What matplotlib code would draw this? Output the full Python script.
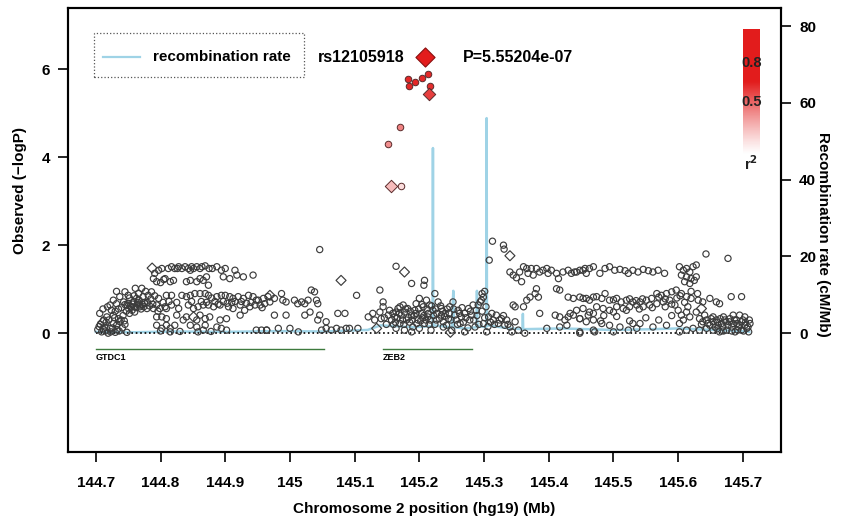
import numpy as np
import matplotlib
matplotlib.use('Agg')
import matplotlib.pyplot as plt
from matplotlib.patches import Rectangle

plt.rcParams['font.family'] = ['Liberation Sans', 'DejaVu Sans']
plt.rcParams['font.weight'] = 'bold'

# ---------------- data ----------------
x_ticks = [144.7, 144.8, 144.9, 145.0, 145.1, 145.2, 145.3, 145.4, 145.5, 145.6, 145.7]
x_tick_labels = ['144.7', '144.8', '144.9', '145', '145.1', '145.2', '145.3', '145.4', '145.5', '145.6', '145.7']
y_ticks = [0, 2, 4, 6]
rec_ticks = [0, 20, 40, 60, 80]

lead_snp = 'rs12105918'
lead_pos = 145.2085
lead_logp = 6.27
lead_p_text = 'P=5.55204e-07'

# SNPs in LD with lead SNP (position Mb, -logP, r2, marker)
ld_pos = [145.182, 145.184, 145.193, 145.204, 145.213, 145.216, 145.215, 145.170, 145.151, 145.156, 145.171]
ld_logp = [5.77, 5.61, 5.70, 5.80, 5.89, 5.61, 5.43, 4.68, 4.31, 3.34, 3.34]
ld_r2 = [0.95, 0.95, 0.95, 0.95, 0.95, 0.92, 0.85, 0.55, 0.50, 0.30, 0.15]
ld_marker = ['o', 'o', 'o', 'o', 'o', 'o', 'D', 'o', 'o', 'D', 'o']

# remaining SNPs (r2 ~ 0), circles
snp_circles = [
    (144.709,0.03),(144.714,0.14),(144.719,0.0),(144.722,0.11),(144.727,0.22),(144.730,0.02),(144.732,0.18),
    (144.712,0.30),(144.717,0.37),(144.724,0.52),(144.727,0.41),(144.735,0.33),(144.737,0.26),(144.706,0.45),
    (144.715,0.05),(144.736,0.05),(144.741,0.12),(144.745,0.20),(144.748,0.02),
    (144.722,0.64),(144.727,0.75),(144.732,0.67),(144.737,0.83),(144.743,0.71),(144.745,0.94),(144.748,0.64),
    (144.750,0.86),(144.755,0.60),(144.758,0.71),(144.761,1.02),(144.763,0.79),(144.768,0.64),(144.771,1.02),
    (144.773,0.83),(144.776,0.67),(144.779,0.56),(144.781,0.86),(144.786,0.94),(144.789,0.56),(144.794,0.64),
    (144.797,0.79),(144.799,0.56),(144.802,0.37),(144.807,0.60),(144.809,0.56),
    (144.745,0.65),(144.750,0.68),(144.753,0.62),(144.757,0.66),(144.760,0.60),(144.765,0.70),(144.768,0.60),
    (144.772,0.65),(144.775,0.70),(144.740,0.58),(144.735,0.55),(144.730,0.50),(144.742,0.40),(144.752,0.45),
    (144.760,0.48),(144.766,0.90),(144.752,0.80),(144.732,0.95),
    (144.703,0.08),(144.707,0.20),(144.711,0.10),(144.716,0.25),(144.720,0.30),(144.723,0.03),(144.726,0.12),
    (144.729,0.35),(144.733,0.08),(144.739,0.30),(144.744,0.28),(144.747,0.50),(144.751,0.55),(144.756,0.52),
    (144.759,0.85),(144.762,0.58),(144.764,0.66),(144.767,0.75),(144.770,0.55),(144.774,0.60),(144.777,0.95),
    (144.780,0.70),(144.783,0.62),(144.785,0.78),(144.788,0.66),(144.791,0.85),(144.796,0.50),(144.804,0.70),
    (144.711,0.55),(144.718,0.60),(144.705,0.15),
    (144.791,1.36),(144.797,1.43),(144.802,1.47),(144.807,1.24),(144.812,1.47),(144.817,1.51),
    (144.822,1.47),(144.828,1.51),(144.833,1.47),(144.838,1.51),(144.843,1.47),(144.846,1.43),(144.851,1.47),
    (144.856,1.51),(144.861,1.47),(144.869,1.53),(144.871,1.28),(144.887,1.51),(144.894,1.43),(144.900,1.47),
    (144.897,1.28),(144.907,1.24),(144.918,1.32),(144.928,1.28),(144.943,1.32),
    (144.915,1.43),(144.880,1.47),(144.875,1.47),(144.864,1.51),(144.848,1.51),(144.826,1.47),
    (144.789,1.24),(144.794,1.17),(144.815,1.17),(144.820,1.20),(144.840,1.17),(144.846,1.20),(144.856,1.17),
    (144.861,1.24),(144.866,1.20),(144.874,1.09),(144.800,1.15),(144.805,1.22),
    (144.809,0.86),(144.817,0.86),(144.840,0.83),(144.846,0.86),(144.853,0.90),(144.861,0.90),(144.869,0.90),
    (144.874,0.86),(144.887,0.83),(144.894,0.86),(144.900,0.86),(144.907,0.83),(144.912,0.79),(144.920,0.83),
    (144.928,0.79),(144.936,0.86),(144.943,0.83),(144.948,0.75),(144.959,0.79),
    (144.813,0.72),(144.825,0.70),(144.833,0.86),(144.835,0.30),(144.848,0.72),(144.863,0.72),(144.871,0.70),
    (144.879,0.80),(144.884,0.72),(144.889,0.66),(144.897,0.72),(144.903,0.68),(144.910,0.70),(144.915,0.72),
    (144.925,0.72),(144.933,0.68),(144.940,0.70),(144.951,0.75),(144.957,0.58),
    (144.817,0.64),(144.828,0.56),(144.843,0.64),(144.851,0.56),(144.858,0.60),(144.866,0.64),(144.874,0.64),
    (144.882,0.60),(144.892,0.64),(144.905,0.60),(144.912,0.56),(144.923,0.64),(144.930,0.52),(144.938,0.60),
    (144.946,0.64),(144.954,0.64),(144.961,0.67),
    (144.794,0.37),(144.809,0.33),(144.825,0.41),(144.840,0.37),(144.856,0.30),(144.861,0.41),(144.869,0.33),
    (144.876,0.37),(144.892,0.30),(144.902,0.33),(144.923,0.41),
    (144.794,0.18),(144.802,0.11),(144.809,0.18),(144.815,0.11),(144.822,0.18),(144.846,0.18),(144.856,0.14),
    (144.866,0.07),(144.869,0.18),(144.887,0.14),(144.894,0.11),(144.902,0.07),(144.948,0.07),(144.956,0.07),
    (144.964,0.07),(144.800,0.05),(144.815,0.03),(144.830,0.04),(144.858,0.03),(144.878,0.04),
    (145.046,1.90),(145.103,0.86),(145.139,0.98),(145.144,0.71),
    (145.164,1.52),(145.188,1.13),(145.208,1.20),(145.207,1.09),(145.224,0.90),
    (144.966,0.83),(144.969,0.71),(144.976,0.79),(144.987,0.90),(144.989,0.75),(144.994,0.71),(145.007,0.75),
    (145.012,0.67),(145.018,0.71),(145.023,0.67),(145.028,0.75),(145.033,0.98),(145.038,0.94),(145.041,0.75),
    (145.043,0.67),(144.976,0.41),(144.994,0.41),(145.023,0.41),(145.031,0.48),(145.046,0.41),(145.043,0.30),
    (145.056,0.26),(145.074,0.45),(145.085,0.45),
    (144.964,0.07),(144.982,0.11),(145.000,0.11),(145.013,0.03),(145.049,0.07),(145.056,0.11),(145.064,0.07),
    (145.072,0.11),(145.079,0.07),(145.087,0.11),(145.092,0.11),(145.105,0.11),
    (145.121,0.37),(145.128,0.45),(145.131,0.30),(145.139,0.48),(145.141,0.33),(145.144,0.60),
    (145.152,0.41),(145.154,0.52),(145.157,0.30),(145.162,0.37),(145.164,0.48),(145.167,0.56),(145.170,0.22),
    (145.172,0.41),(145.175,0.64),(145.177,0.48),(145.180,0.30),(145.182,0.56),(145.188,0.41),(145.190,0.14),
    (145.193,0.52),(145.195,0.67),(145.198,0.30),(145.200,0.79),(145.203,0.45),(145.206,0.60),(145.208,0.22),
    (145.211,0.75),(145.213,0.37),(145.216,0.64),(145.218,0.07),(145.221,0.52),(145.226,0.30),(145.229,0.71),
    (145.234,0.41),(145.237,0.14),(145.164,0.11),(145.177,0.07),(145.188,0.03),(145.200,0.11),
    (145.160,0.20),(145.185,0.25),(145.195,0.45),(145.205,0.35),(145.215,0.20),(145.225,0.55),(145.170,0.60),
    (145.146,0.35),(145.149,0.20),(145.159,0.45),(145.163,0.25),(145.166,0.35),(145.169,0.45),(145.174,0.30),
    (145.176,0.20),(145.179,0.55),(145.183,0.35),(145.186,0.50),(145.189,0.30),(145.192,0.40),(145.196,0.22),
    (145.199,0.55),(145.202,0.28),(145.204,0.65),(145.207,0.40),(145.210,0.30),(145.212,0.55),(145.214,0.45),
    (145.217,0.30),(145.219,0.62),(145.222,0.40),(145.224,0.20),(145.227,0.45),(145.231,0.33),(145.233,0.62),
    (145.236,0.50),(145.239,0.38),(145.243,0.55),(145.246,0.45),(145.249,0.30),(145.253,0.55),(145.257,0.30),
    (145.259,0.20),(145.262,0.45),(145.266,0.58),(145.268,0.25),(145.272,0.35),(145.275,0.12),(145.279,0.50),
    (145.284,0.30),(145.289,0.40),(145.292,0.20),(145.297,0.50),(145.301,0.35),(145.303,0.60),(145.306,0.15),
    (145.310,0.25),(145.316,0.20),(145.324,0.30),(145.330,0.40),(145.337,0.20),(145.297,0.90),(145.301,0.95),
    (145.313,2.09),(145.330,2.00),(145.331,1.91),(145.308,1.66),
    (145.299,0.82),(145.296,0.75),(145.294,0.71),(145.291,0.64),(145.288,0.52),(145.283,0.64),(145.281,0.41),
    (145.276,0.56),(145.270,0.45),(145.265,0.37),(145.260,0.52),(145.255,0.41),(145.252,0.71),(145.247,0.60),
    (145.245,0.33),(145.240,0.45),(145.237,0.26),(145.234,0.56),(145.242,0.18),(145.250,0.07),(145.270,0.03),
    (145.286,0.14),(145.263,0.22),(145.278,0.30),(145.304,0.03),(145.299,0.22),(145.307,0.37),(145.312,0.45),
    (145.314,0.30),(145.319,0.41),(145.322,0.22),(145.327,0.33),(145.332,0.18),(145.335,0.30),(145.340,0.14),
    (145.343,0.03),(145.348,0.26),(145.353,0.07),(145.345,0.64),(145.348,0.60),
    (145.363,0.00),(145.397,0.11),(145.386,0.45),
    (145.340,1.39),(145.345,1.32),(145.350,1.26),(145.355,1.39),(145.358,1.17),(145.361,1.51),(145.366,1.47),
    (145.368,1.36),(145.373,1.47),(145.376,1.32),(145.381,1.47),(145.386,1.39),(145.391,1.43),(145.397,1.47),
    (145.399,1.36),(145.404,1.43),(145.412,1.36),(145.415,1.24),(145.422,1.39),(145.430,1.43),(145.435,1.36),
    (145.440,1.39),(145.448,1.43),(145.456,1.47),(145.463,1.47),(145.458,1.36),
    (145.381,1.01),(145.379,0.90),(145.384,0.82),(145.371,0.82),(145.366,0.75),(145.412,1.01),(145.417,0.98),
    (145.430,0.82),(145.438,0.79),(145.448,0.82),(145.458,0.79),(145.469,0.82),(145.361,0.60),
    (145.410,0.41),(145.417,0.37),(145.425,0.30),(145.430,0.37),(145.438,0.41),(145.448,0.33),(145.461,0.41),
    (145.469,0.45),(145.428,0.18),(145.417,0.14),(145.448,0.00),(145.471,0.03),
    (145.443,1.39),(145.453,1.43),(145.469,1.51),(145.487,1.47),(145.494,1.51),(145.502,1.43),(145.510,1.45),
    (145.518,1.42),(145.530,1.43),(145.538,1.39),(145.546,1.45),(145.554,1.42),(145.561,1.39),(145.569,1.43),
    (145.579,1.36),(145.479,1.36),(145.523,1.36),
    (145.602,1.51),(145.608,1.43),(145.613,1.47),(145.618,1.39),(145.623,1.51),(145.628,1.55),(145.605,1.32),
    (145.613,1.28),(145.620,1.24),(145.628,1.28),(145.610,1.17),(145.618,1.13),(145.625,1.20),
    (145.643,1.80),(145.677,1.70),
    (145.453,0.79),(145.463,0.75),(145.474,0.83),(145.482,0.79),(145.487,0.90),(145.494,0.75),(145.505,0.79),
    (145.512,0.71),(145.520,0.75),(145.530,0.71),(145.541,0.71),(145.551,0.75),(145.559,0.79),(145.567,0.90),
    (145.574,0.86),(145.582,0.90),(145.590,0.94),(145.597,0.98),(145.605,0.90),(145.613,0.83),(145.620,0.79),
    (145.631,0.75),(145.638,0.71),(145.649,0.79),(145.659,0.71),(145.682,0.83),(145.698,0.83),(145.664,0.67),
    (145.433,0.45),(145.443,0.52),(145.453,0.56),(145.463,0.48),(145.474,0.60),(145.484,0.56),(145.494,0.52),
    (145.505,0.60),(145.515,0.56),(145.525,0.60),(145.536,0.64),(145.546,0.60),(145.556,0.64),(145.567,0.67),
    (145.577,0.71),(145.587,0.75),(145.595,0.64),(145.600,0.52),(145.605,0.41),(145.628,0.48),
    (145.480,0.28),(145.500,0.48),(145.520,0.52),(145.540,0.55),(145.560,0.58),(145.580,0.60),(145.590,0.66),
    (145.598,0.80),(145.603,0.85),(145.580,0.78),(145.570,0.82),(145.545,0.78),(145.535,0.74),(145.525,0.78),
    (145.500,0.76),(145.485,0.40),(145.505,0.38),(145.525,0.28),(145.550,0.35),(145.570,0.30),(145.590,0.40),
    (145.610,0.70),(145.630,0.90),(145.620,0.95),
    (145.448,0.33),(145.458,0.26),(145.469,0.30),(145.482,0.22),(145.494,0.18),(145.510,0.14),(145.530,0.22),
    (145.541,0.22),(145.561,0.14),(145.582,0.18),(145.602,0.22),
    (145.448,0.03),(145.469,0.07),(145.500,0.03),(145.523,0.07),(145.536,0.11),(145.602,0.03),(145.613,0.07),
    (145.623,0.11),(145.633,0.07),
    (145.633,0.33),(145.638,0.26),(145.644,0.30),(145.649,0.18),(145.654,0.26),(145.659,0.30),(145.662,0.18),
    (145.667,0.22),(145.672,0.30),(145.677,0.18),(145.680,0.33),(145.685,0.22),(145.690,0.30),(145.693,0.14),
    (145.698,0.26),(145.703,0.18),(145.706,0.11),(145.709,0.03),(145.644,0.11),(145.654,0.07),(145.664,0.03),
    (145.675,0.07),(145.688,0.03),(145.698,0.07),(145.695,0.41),(145.685,0.41),(145.703,0.37),(145.670,0.37),
    (145.654,0.37),(145.641,0.41),(145.711,0.22),
    (145.636,0.20),(145.646,0.22),(145.651,0.33),(145.657,0.14),(145.661,0.25),(145.665,0.33),(145.669,0.14),
    (145.674,0.26),(145.679,0.26),(145.683,0.14),(145.687,0.30),(145.691,0.22),(145.695,0.18),(145.700,0.30),
    (145.704,0.25),(145.708,0.14),(145.710,0.30),(145.683,0.05),(145.692,0.07),(145.701,0.05),(145.660,0.10),
    (145.670,0.05),
    (145.615,0.60),(145.613,0.48),(145.618,0.37),(145.608,0.30),
]

# remaining SNPs (r2 ~ 0), diamonds
snp_diamonds = [
    (144.711,0.25),(144.787,1.48),(144.969,0.86),(145.079,1.20),(145.134,0.11),
    (145.177,1.39),(145.340,1.76),(145.636,0.56),(144.851,0.37),(145.248,0.02),
]

# recombination rate (cM/Mb)
rec_pos = [144.700, 144.760, 144.820, 144.900, 144.980, 145.050, 145.120, 145.140, 145.190, 145.2205,
           145.2210, 145.2215, 145.250, 145.2525, 145.2535, 145.270, 145.2880, 145.2890, 145.2900, 145.3035,
           145.3040, 145.3045, 145.340, 145.3595, 145.3600, 145.3605, 145.420, 145.500, 145.560, 145.600,
           145.640, 145.700, 145.710]
rec_rate = [0.3, 0.2, 0.4, 0.3, 0.5, 0.4, 0.8, 2.0, 1.5, 1.8,
            48.2, 2.0, 1.5, 11.0, 1.5, 1.2, 1.5, 11.0, 1.8, 1.5,
            56.0, 2.0, 1.2, 1.0, 5.0, 1.0, 1.2, 0.8, 1.0, 1.2,
            0.9, 0.5, 0.3]

gene_names = ['GTDC1', 'ZEB2']
gene_start = [144.700, 145.144]
gene_end = [145.052, 145.281]

# ---------------- figure ----------------
fig = plt.figure(figsize=(8.46, 5.19), dpi=100)
ax = fig.add_axes([0.0804, 0.1291, 0.8428, 0.8555])
ax2 = ax.twinx()
ax.set_zorder(ax2.get_zorder() + 1)
ax.patch.set_visible(False)

ax.set_xlim(144.657, 145.759)
ax.set_ylim(-2.7, 7.39)
ax2.set_ylim(-31.0, 84.7)

red = np.array([0.89, 0.11, 0.11])

# recombination line
ax2.plot(rec_pos, rec_rate, color='#9fd3e6', lw=1.8, zorder=1)

# zero line
ax.plot([144.7, 145.71], [0, 0], color='black', ls=':', lw=1.2, zorder=2)

# SNP points
c = np.array(snp_circles)
ax.scatter(c[:, 0], c[:, 1], s=20, marker='o', facecolors='none', edgecolors='#3c3c3c', linewidths=0.85, zorder=3)
d = np.array(snp_diamonds)
ax.scatter(d[:, 0], d[:, 1], s=26, marker='D', facecolors='none', edgecolors='#3c3c3c', linewidths=0.85, zorder=3)

for x, y, r2, m in zip(ld_pos, ld_logp, ld_r2, ld_marker):
    col = (1 - r2) * np.array([1.0, 1.0, 1.0]) + r2 * red
    ax.scatter([x], [y], s=(22 if m == 'o' else 40), marker=m, facecolors=[col],
               edgecolors='#5a2a2a', linewidths=0.7, zorder=4)
ax.scatter([lead_pos], [lead_logp], s=95, marker='D', facecolors=[red], edgecolors='#8a1010',
           linewidths=0.8, zorder=5)

# lead SNP labels
ax.text(145.1776, lead_logp, lead_snp, ha='right', va='center', fontsize=11.5, fontweight='bold')
ax.text(145.267, lead_logp, lead_p_text, ha='left', va='center', fontsize=11.5, fontweight='bold')

# legend box
ax.add_patch(Rectangle((144.697, 5.82), 0.325, 1.0, fill=False, ls=':', lw=0.9, edgecolor='#555555', zorder=2))
ax.plot([144.711, 144.768], [lead_logp, lead_logp], color='#9fd3e6', lw=1.6, zorder=2)
ax.text(144.788, lead_logp, 'recombination rate', ha='left', va='center', fontsize=11, fontweight='bold')

# r2 colour bar
n = 200
grad = np.zeros((n, 1, 4))
grad[:, 0, :3] = red
tt = np.linspace(0, 1, n)
grad[:, 0, 3] = np.clip(tt / 0.58, 0, 1) ** 1.2
ax.imshow(grad, extent=[145.700, 145.726, 4.05, 6.91], origin='lower', aspect='auto', zorder=2,
          interpolation='bilinear')
ax.text(145.713, 6.14, '0.8', ha='center', va='center', fontsize=10.5, fontweight='bold', color='#222222', zorder=3)
ax.text(145.713, 5.25, '0.5', ha='center', va='center', fontsize=10.5, fontweight='bold', color='#222222', zorder=3)
ax.text(145.713, 3.86, r'r$^2$', ha='center', va='center', fontsize=10.5, color='#222222', zorder=3)

# genes
for name, s0, s1 in zip(gene_names, gene_start, gene_end):
    ax.plot([s0, s1], [-0.36, -0.36], color='#3d7a3d', lw=1.0, zorder=2)
    ax.text(s0, -0.55, name, ha='left', va='center', fontsize=6.5, fontweight='bold')

# axes styling
ax.set_xticks(x_ticks)
ax.set_xticklabels(x_tick_labels)
ax.set_yticks(y_ticks)
ax2.set_yticks(rec_ticks)
ax.tick_params(axis='x', direction='out', length=7, width=1.2, pad=10, labelsize=11)
ax.tick_params(axis='y', direction='out', length=7, width=1.2, pad=6, labelsize=11)
ax2.tick_params(axis='y', direction='out', length=7, width=1.2, pad=6, labelsize=11)
for lab in ax.get_xticklabels() + ax.get_yticklabels() + ax2.get_yticklabels():
    lab.set_fontweight('bold')
for sp in ax.spines.values():
    sp.set_linewidth(1.5)
for sp in ax2.spines.values():
    sp.set_linewidth(1.5)

ax.set_xlabel('Chromosome 2 position (hg19) (Mb)', fontsize=11, fontweight='bold')
ax.xaxis.set_label_coords(0.5, -0.112)
ax.set_ylabel('Observed (\u2212logP)', fontsize=11, fontweight='bold')
ax.yaxis.set_label_coords(-0.057, 0.588)
ax2.set_ylabel('Recombination rate (cM/Mb)', fontsize=11, fontweight='bold', rotation=270)
ax2.yaxis.set_label_coords(1.068, 0.49)

fig.savefig('out.png', dpi=100)
